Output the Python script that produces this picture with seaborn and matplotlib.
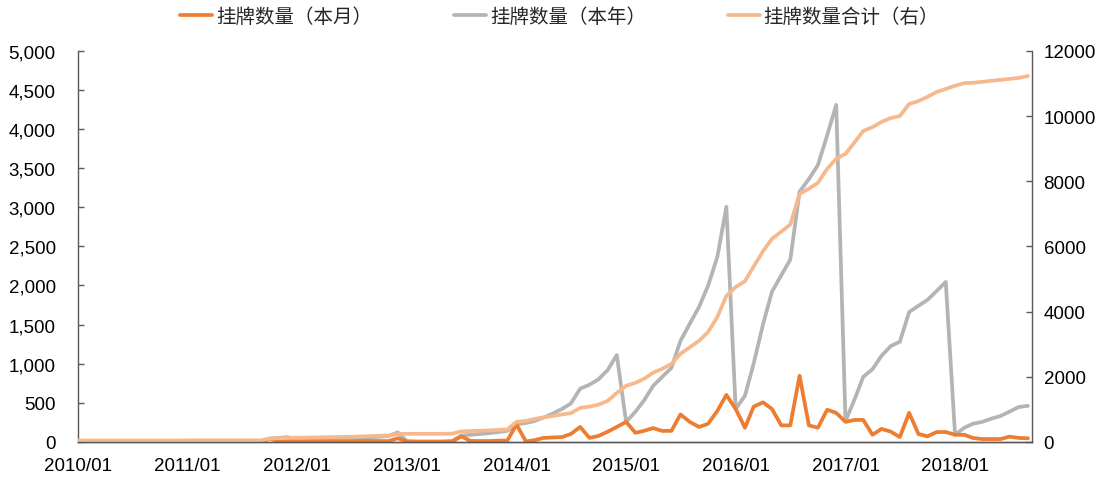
import matplotlib
matplotlib.use('Agg')
import matplotlib.pyplot as plt
import matplotlib.dates as mdates
from matplotlib.ticker import FuncFormatter, MultipleLocator
import pandas as pd
import seaborn as sns

# monthly series, 2010/01 .. 2018/09
months = pd.date_range('2010-01-01', periods=105, freq='MS')

monthly = [0, 0, 0, 0, 0, 0, 0, 0, 0, 0, 0, 0,
           0, 0, 0, 0, 0, 0, 0, 0, 0, 40, 10, 10,
           5, 5, 5, 5, 5, 5, 5, 10, 10, 10, 10, 45,
           5, 0, 0, 0, 0, 5, 70, 10, 10, 10, 15, 15,
           220, 5, 20, 50, 55, 60, 100, 190, 50, 75, 130, 190,
           255, 115, 140, 175, 140, 140, 350, 255, 190, 230, 395, 600,
           420, 180, 450, 505, 420, 210, 210, 845, 210, 180, 410, 370,
           255, 280, 280, 90, 165, 130, 60, 370, 100, 70, 125, 125,
           90, 90, 50, 35, 35, 35, 65, 50, 45]

ytd = [0, 0, 0, 0, 0, 0, 0, 0, 0, 0, 0, 0,
       0, 0, 0, 0, 0, 0, 0, 0, 0, 40, 50, 60,
       5, 10, 15, 20, 25, 30, 35, 45, 55, 65, 75, 120,
       5, 5, 5, 5, 5, 10, 80, 90, 100, 110, 125, 140,
       225, 240, 265, 310, 360, 420, 490, 680, 730, 800, 920, 1110,
       255, 385, 525, 715, 830, 945, 1290, 1510, 1725, 1995, 2365, 3005,
       420, 590, 1000, 1500, 1920, 2130, 2330, 3200, 3360, 3540, 3920, 4310,
       265, 550, 830, 930, 1100, 1225, 1280, 1660, 1740, 1815, 1930, 2045,
       90, 180, 230, 255, 295, 330, 385, 445, 460]

total = [40, 40, 40, 40, 40, 40, 40, 40, 40, 40, 40, 40,
         45, 45, 45, 45, 45, 45, 45, 45, 45, 100, 110, 120,
         125, 130, 135, 140, 145, 150, 155, 165, 175, 185, 195, 240,
         245, 245, 245, 245, 245, 250, 320, 330, 340, 350, 365, 380,
         614, 640, 700, 750, 790, 840, 880, 1040, 1080, 1140, 1260, 1500,
         1720, 1810, 1930, 2120, 2240, 2390, 2700, 2900, 3100, 3370, 3830, 4480,
         4750, 4930, 5380, 5850, 6230, 6450, 6670, 7610, 7770, 7950, 8380, 8690,
         8840, 9200, 9540, 9660, 9820, 9940, 10000, 10370, 10460, 10590, 10740, 10830,
         10930, 11010, 11020, 11050, 11080, 11110, 11140, 11170, 11230]

labels = ['挂牌数量（本月）', '挂牌数量（本年）', '挂牌数量合计（右）']
colors = ['#ED7D31', '#B4B4B4', '#F6B98E']

sns.set_style('white')
plt.rcParams['font.family'] = ['Liberation Sans', 'Noto Sans CJK SC', 'DejaVu Sans']

fig = plt.figure(figsize=(11.15, 4.85), dpi=100)
ax = fig.add_axes([0.070, 0.087, 0.856, 0.806])
ax2 = ax.twinx()

sns.lineplot(x=months, y=ytd, ax=ax, color=colors[1], lw=2.7, label=labels[1])
sns.lineplot(x=months, y=monthly, ax=ax, color=colors[0], lw=2.7, label=labels[0])
sns.lineplot(x=months, y=total, ax=ax2, color=colors[2], lw=2.7, label=labels[2])

ax.set_xlim(months[0], months[-1] + pd.Timedelta(days=15))
ax.set_ylim(0, 5000)
ax.yaxis.set_major_locator(MultipleLocator(500))
ax.yaxis.set_major_formatter(FuncFormatter(lambda v, p: f'{v:,.0f}'))
ax2.set_ylim(0, 12000)
ax2.yaxis.set_major_locator(MultipleLocator(2000))

ax.xaxis.set_major_locator(mdates.YearLocator())
ax.xaxis.set_major_formatter(mdates.DateFormatter('%Y/%m'))

for a in (ax, ax2):
    a.set_xlabel('')
    a.set_ylabel('')
    a.spines['top'].set_visible(False)
    for s in ('left', 'right', 'bottom'):
        a.spines[s].set_color('#595959')
        a.spines[s].set_linewidth(1.0)
    a.tick_params(direction='in', length=4, width=1, color='#595959',
                  labelsize=13.5, labelcolor='#000000')
ax.tick_params(axis='x', pad=11)
ax.tick_params(axis='y', pad=16)
ax2.tick_params(axis='y', pad=8)
ax2.spines['left'].set_visible(False)
ax.spines['right'].set_visible(False)

ax.get_legend().remove()
ax2.get_legend().remove()
h1, l1 = ax.get_legend_handles_labels()
h2, l2 = ax2.get_legend_handles_labels()
handles = {l: h for h, l in zip(h1 + h2, l1 + l2)}
fig.legend([handles[l] for l in labels], labels, loc='center', ncol=3,
           bbox_to_anchor=(0.502, 0.963), frameon=False, prop={'size': 14},
           handlelength=1.65, handletextpad=0.2, columnspacing=4.2)

fig.savefig('out.png', dpi=100)
